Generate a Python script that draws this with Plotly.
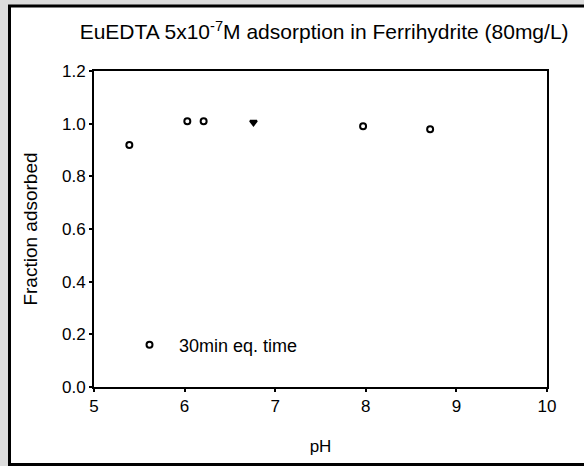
import plotly.graph_objects as go

# Data
ph = [5.39, 6.03, 6.21, 6.76, 7.97, 8.71]
fraction = [0.919, 1.009, 1.009, 1.005, 0.990, 0.979]
symbols = ["circle", "circle", "circle", "triangle-down", "circle", "circle"]
fills = ["white", "white", "white", "black", "white", "white"]

x_ticks = [5, 6, 7, 8, 9, 10]
y_ticks = [0.0, 0.2, 0.4, 0.6, 0.8, 1.0, 1.2]

W, H = 584, 466
L, R, T, B = 94, 37, 71, 79
pw = W - L - R
ph_ = H - T - B

def px_x(p):
    return (p - L) / pw

def px_y(p):
    return (H - B - p) / ph_

fig = go.Figure()
fig.add_trace(go.Scatter(
    x=ph, y=fraction, mode="markers", name="30min eq. time",
    marker=dict(symbol=symbols, size=6, color=fills,
                line=dict(color="black", width=2)),
))

fig.update_layout(
    width=W, height=H,
    margin=dict(l=L, r=R, t=T, b=B),
    paper_bgcolor="#dcdcdc",
    plot_bgcolor="white",
    font=dict(family="Liberation Sans, Arial, sans-serif", size=17, color="black"),
    title=dict(text="EuEDTA 5x10<sup>-7</sup>M adsorption in Ferrihydrite (80mg/L)",
               x=0.555, xanchor="center", y=1 - 32 / H, yanchor="middle",
               font=dict(size=21)),
    showlegend=True,
    legend=dict(x=px_x(120), y=px_y(345), xanchor="left", yanchor="middle",
                bgcolor="rgba(0,0,0,0)", itemwidth=49, font=dict(size=18)),
    xaxis=dict(range=[5, 10], tickvals=x_ticks, ticktext=[str(v) for v in x_ticks],
               showline=True, linecolor="black", linewidth=2, mirror=True,
               ticks="outside", ticklen=3, tickwidth=2, tickcolor="black",
               tickfont=dict(size=17),
               showgrid=False, zeroline=False,
               title=dict(text="pH", standoff=25, font=dict(size=17))),
    yaxis=dict(range=[0, 1.2], tickvals=y_ticks, ticktext=[f"{v:.1f}" for v in y_ticks],
               showline=True, linecolor="black", linewidth=2, mirror=True,
               ticks="outside", ticklen=3, tickwidth=2, tickcolor="black",
               tickfont=dict(size=17),
               showgrid=False, zeroline=False,
               title=dict(text="Fraction adsorbed", standoff=19, font=dict(size=19))),
    shapes=[dict(type="rect", xref="paper", yref="paper", layer="below",
                 x0=px_x(9.5), x1=px_x(600), y0=px_y(464.5), y1=px_y(6),
                 fillcolor="white", line=dict(color="black", width=3))],
)

fig.write_html("out.html")
